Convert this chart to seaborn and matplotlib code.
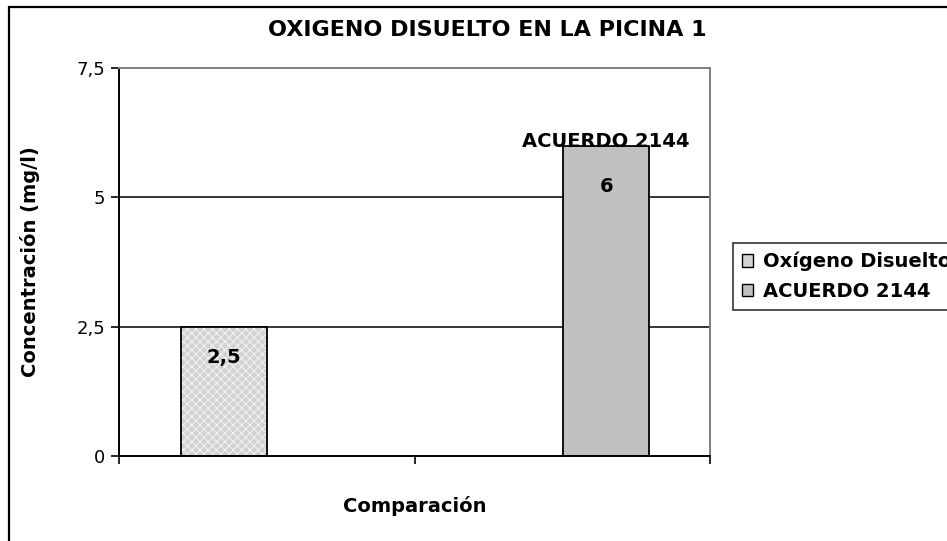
import matplotlib
matplotlib.use("Agg")
import matplotlib.pyplot as plt
from matplotlib.patches import Rectangle
import seaborn as sns
import pandas as pd

# ---- data ----
series = ["Oxígeno Disuelto", "ACUERDO 2144"]
values = [2.5, 6.0]
value_labels = ["2,5", "6"]
yticks = [0, 2.5, 5, 7.5]
ytick_labels = ["0", "2,5", "5", "7,5"]
bar_colors = ["#d2d2d2", "#c0c0c0"]

title = "OXIGENO DISUELTO EN LA PICINA 1"
xlabel = "Comparación"
ylabel = "Concentración (mg/l)"

sns.set_theme(style="white")
plt.rcParams["font.family"] = ["DejaVu Sans"]
plt.rcParams["hatch.linewidth"] = 0.7
plt.rcParams["text.color"] = "black"
plt.rcParams["axes.labelcolor"] = "black"
plt.rcParams["xtick.color"] = "black"
plt.rcParams["ytick.color"] = "black"

W, H = 947, 541
fig = plt.figure(figsize=(W / 100, H / 100), dpi=100)
fig.patch.set_facecolor("white")

ax = fig.add_axes([119 / W, 1 - 456 / H, (710 - 119) / W, (456 - 68) / H])

df = pd.DataFrame({"serie": series, "valor": values})
sns.barplot(data=df, x="serie", y="valor", hue="serie", palette=bar_colors,
            width=0.225, legend=False, ax=ax, saturation=1)

# style bars
patches = [p for p in ax.patches]
for i, p in enumerate(patches):
    if i == 0:
        p.set_facecolor(bar_colors[0])
        p.set_edgecolor("#f4f4f4")
        p.set_hatch("xxxx")
        p.set_linewidth(0)
        ax.add_patch(Rectangle(p.get_xy(), p.get_width(), p.get_height(),
                               fill=False, edgecolor="black", linewidth=1.3, zorder=3))
    else:
        p.set_facecolor(bar_colors[1])
        p.set_edgecolor("black")
        p.set_linewidth(1.3)
    p.set_zorder(2)

ax.set_ylim(0, 7.5)
ax.set_xlim(-0.275, 1.272)
ax.set_yticks(yticks)
ax.set_yticklabels(ytick_labels, fontsize=13)
ax.set_xticks([-0.275, 0.5, 1.272])
ax.set_xticklabels(["", "", ""])
ax.tick_params(axis="both", direction="out", length=6, width=1.2, color="black",
               labelcolor="black", bottom=True, left=True, pad=4)

# grid lines
for yv in [2.5, 5]:
    ax.axhline(yv, color="black", linewidth=1.1, zorder=1)

for s in ["left", "bottom"]:
    ax.spines[s].set_color("black")
    ax.spines[s].set_linewidth(1.4)
for s in ["top", "right"]:
    ax.spines[s].set_color("#808080")
    ax.spines[s].set_linewidth(1.4)

ax.set_xlabel(xlabel, fontsize=14, fontweight="bold", color="black")
ax.set_ylabel(ylabel, fontsize=14, fontweight="bold", color="black")
ax.xaxis.set_label_coords((415 - 119) / 591, (456 - 496) / 388)
ax.yaxis.set_label_coords((40 - 119) / 591, 0.5)

# data labels
offsets_px = [-31, -41]
for i, (v, lab) in enumerate(zip(values, value_labels)):
    ax.annotate(lab, xy=(i, v), xytext=(0, offsets_px[i] * 0.72),
                textcoords="offset points", ha="center", va="center",
                fontsize=14, fontweight="bold", color="black", zorder=5)
ax.annotate(series[1], xy=(1, values[1]), xytext=(0, 4 * 0.72),
            textcoords="offset points", ha="center", va="center",
            fontsize=14, fontweight="bold", color="black", zorder=5)

# legend
handles = [Rectangle((0, 0), 1, 1, facecolor=bar_colors[0], edgecolor="black", linewidth=1),
           Rectangle((0, 0), 1, 1, facecolor=bar_colors[1], edgecolor="black", linewidth=1)]
leg = fig.legend(handles, series, loc="upper left",
                 bbox_to_anchor=(733 / W, 1 - 243 / H), bbox_transform=fig.transFigure,
                 fancybox=False, frameon=True, edgecolor="black",
                 prop={"weight": "bold", "size": 14},
                 handlelength=0.6, handleheight=0.6, handletextpad=0.5,
                 borderpad=0.45, labelspacing=0.55, borderaxespad=0)
leg.get_frame().set_linewidth(1.2)
for t in leg.get_texts():
    t.set_color("black")

# title
fig.text(487 / W, 1 - 30 / H, title, ha="center", va="center",
         fontsize=16, fontweight="bold", color="black")

# outer chart frame
fig.add_artist(Rectangle((9 / W, -0.05), 1.2, 1 - 7 / H + 0.05, transform=fig.transFigure,
                         fill=False, edgecolor="black", linewidth=1.6))

fig.savefig("out.png", dpi=100, facecolor="white")
